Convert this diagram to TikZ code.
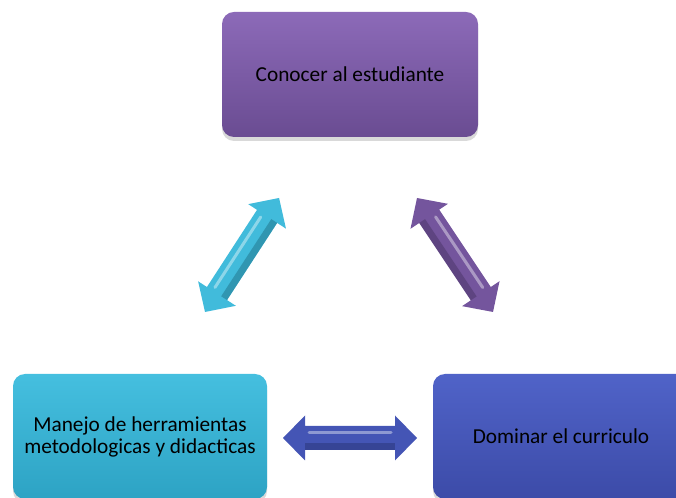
\documentclass[tikz,border=0pt]{standalone}
\usepackage{fontspec}
\setmainfont{Carlito}
\usetikzlibrary{shadows}
\definecolor{purpTop}{HTML}{8C6AB8}
\definecolor{purpBot}{HTML}{6A4C92}
\definecolor{cyanTop}{HTML}{45BFDF}
\definecolor{cyanBot}{HTML}{2DA3C4}
\definecolor{blueTop}{HTML}{5063C8}
\definecolor{blueBot}{HTML}{3C4BA8}
\newcommand\DArrow[5]{%
  \begin{scope}[shift={#1},rotate=#2]
    \fill[#4] (0,0) -- (22,22.5) -- (22,12) -- ({#3-22},12) -- ({#3-22},22.5) -- (#3,0)
      -- ({#3-22},-22.5) -- ({#3-22},-12) -- (22,-12) -- (22,-22.5) -- cycle;
    \fill[#5,opacity=0.5] (22,-12) -- ({#3-22},-12) -- ({#3-22},-5) -- (22,-5) -- cycle;
    \draw[white,opacity=0.4,line width=3pt,line cap=round] (26,5) -- ({#3-26},5);
  \end{scope}}
\begin{document}
\begin{tikzpicture}[x=1pt,y=1pt,
  box/.style={rounded corners=12pt, minimum width=256pt, minimum height=125pt,
    align=center, inner sep=0pt, text=black, font=\fontsize{21.3}{22}\selectfont,
    drop shadow={shadow xshift=0pt,shadow yshift=-4pt,opacity=0.3}},
  purplebox/.style={box, top color=purpTop, bottom color=purpBot},
  cyanbox/.style={box, top color=cyanTop, bottom color=cyanBot},
  bluebox/.style={box, top color=blueTop, bottom color=blueBot}]
\useasboundingbox (0,0) rectangle (676,497);
\node[purplebox] (con) at (350,422.5) {Conocer al estudiante};
\node[cyanbox, minimum width=254pt] (man) at (140,60.5) {Manejo de herramientas\\metodologicas y didacticas};
\node[bluebox] (dom) at (561,60.5) {Dominar el curriculo};
\coordinate (la) at (205,185);
\coordinate (ra) at (417,299);
\coordinate (ba) at (283,59);
\DArrow{(la)}{57}{136}{cyanTop!85!cyanBot}{cyanBot!70!black}
\DArrow{(ra)}{-56.3}{137}{purpBot!70!purpTop}{purpBot!70!black}
\DArrow{(ba)}{0}{134}{blueBot!60!blueTop}{blueBot!70!black}
\end{tikzpicture}
\end{document}
